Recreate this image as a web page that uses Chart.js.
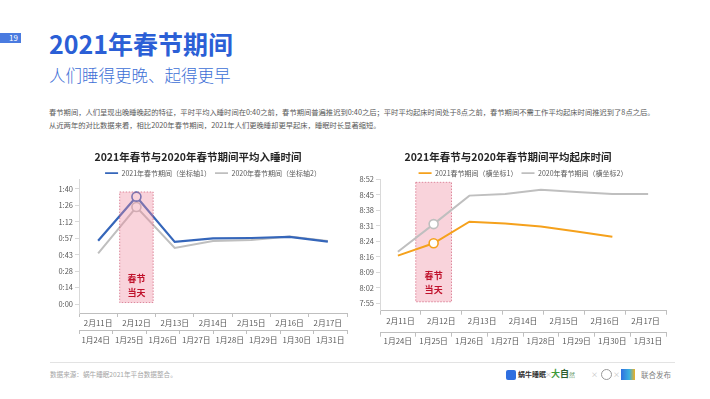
<!DOCTYPE html>
<html>
<head>
<meta charset="utf-8">
<script src="https://cdn.jsdelivr.net/npm/chart.js@4.4.1/dist/chart.umd.min.js"></script>
<style>
  body { margin: 0; width: 710px; height: 399px; background: #fff; position: relative; overflow: hidden;
         font-family: "Noto Sans CJK SC", sans-serif; }
  .abs { position: absolute; white-space: nowrap; }
  #pageNo { left: 0; top: 33px; width: 21px; height: 10px; background: #4a7be0; color: #fff;
            font-size: 8px; line-height: 10px; text-align: right; box-sizing: border-box; padding-right: 3px; }
  #title { left: 49px; top: 31px; font-size: 25px; line-height: 25px; font-weight: bold; color: #2b5fd6; }
  #sub { left: 49px; top: 66.5px; font-size: 16.5px; line-height: 16.5px; color: #3d6fd6; font-weight: 300; }
  #para { left: 49px; top: 106px; font-size: 7.3px; line-height: 13px; color: #595959; }
  #footLine { left: 50px; top: 362px; width: 625px; height: 1px; background: #e3e3e3; }
  #source { left: 50px; top: 369px; font-size: 6.6px; line-height: 10px; color: #a6a6a6; }
  .logo { top: 369px; font-size: 7px; line-height: 11px; }
</style>
</head>
<body>
<div class="abs" id="pageNo">19</div>
<div class="abs" id="title">2021年春节期间</div>
<div class="abs" id="sub">人们睡得更晚、起得更早</div>
<div class="abs" id="para">春节期间，人们呈现出晚睡晚起的特征，平时平均入睡时间在0:40之前，春节期间普遍推迟到0:40之后；平时平均起床时间处于8点之前，春节期间不需工作平均起床时间推迟到了8点之后。<br>从近两年的对比数据来看，相比2020年春节期间，2021年人们更晚睡却更早起床，睡眠时长显著缩短。</div>

<div class="abs" style="left:49px;top:143px;width:303px;height:207px"><canvas id="sleepChart"></canvas></div>
<div class="abs" style="left:350px;top:143px;width:321px;height:207px"><canvas id="wakeChart"></canvas></div>

<div class="abs" id="footLine"></div>
<div class="abs" id="source">数据来源：蜗牛睡眠2021年平台数据整合。</div>
<div class="abs logo" style="left:506px;top:370px;width:10px;height:10px;background:#2f6fe0;border-radius:2px"></div>
<div class="abs logo" style="left:518px;font-weight:bold;color:#333">蜗牛睡眠</div>
<div class="abs logo" style="left:545px;color:#bbb">×</div>
<div class="abs logo" style="left:551px;top:368px;font-size:9px;font-weight:bold"><span style="color:#3d9a3a">大</span><span style="color:#2e5e2e">自</span><span style="color:#6a9a6a;font-size:6px;font-weight:normal">然</span></div>
<div class="abs logo" style="left:591px;color:#bbb">×</div>
<div class="abs logo" style="left:601px;top:369px;width:9px;height:9px;border:1px solid #999;border-radius:50%"></div>
<div class="abs logo" style="left:613px;color:#bbb">×</div>
<div class="abs logo" style="left:621px;top:369px;width:14px;height:11px;background:linear-gradient(90deg,#2f6fe0,#3bb0e0 60%,#f0b020)"></div>
<div class="abs logo" style="left:641px;color:#7f7f7f;font-size:7.5px">联合发布</div>

<script>
// categories
const dates2021 = ['2月11日', '2月12日', '2月13日', '2月14日', '2月15日', '2月16日', '2月17日'];
const dates2020 = ['1月24日', '1月25日', '1月26日', '1月27日', '1月28日', '1月29日', '1月30日', '1月31日'];

// y tick labels (h:mm)
const sleepTicks = ['0:00', '0:14', '0:28', '0:43', '0:57', '1:12', '1:26', '1:40'];
const wakeTicks = ['7:55', '8:02', '8:09', '8:16', '8:24', '8:31', '8:38', '8:45', '8:52'];

// series, minutes after midnight
const sleep2021 = [55.0, 93.3, 54.0, 57.1, 57.4, 58.3, 54.2];
const sleep2020 = [44.1, 84.3, 48.7, 54.8, 55.7, 58.7, 54.8];
const wake2021 = [496.9, 502.6, 512.5, 511.7, 510.3, 508.0, 505.6];
const wake2020 = [498.7, 511.4, 524.5, 525.2, 527.2, 526.2, 525.2, 525.2];

const festivalIndex = 1; // 春节当天

Chart.defaults.font.family = '"Noto Sans CJK SC", sans-serif';
const textColor = '#595959';

function toMin(s) {
  const [h, m] = s.split(':').map(Number);
  return h * 60 + m;
}

function timeAxis(labels, padLow, padHigh) {
  const lo = toMin(labels[0]);
  const hi = toMin(labels[labels.length - 1]);
  const step = (hi - lo) / (labels.length - 1);
  return {
    min: lo - padLow,
    max: hi + padHigh,
    afterBuildTicks: (s) => { s.ticks = labels.map((t, i) => ({ value: lo + i * step })); },
    afterFit: (s) => { s.width = 30; },
    ticks: { color: textColor, font: { size: 7.5 }, padding: 2, autoSkip: false, callback: (v, i) => labels[i] },
    grid: { drawOnChartArea: false, tickLength: 4, color: '#d9d9d9' },
    border: { color: '#d9d9d9' },
  };
}

function dateAxis(labels, height, pad, weight) {
  return {
    type: 'category',
    labels,
    position: 'bottom',
    weight,
    offset: true,
    afterFit: (s) => { s.height = height; },
    ticks: { color: textColor, font: { size: 7.8 }, padding: pad, autoSkip: false, maxRotation: 0 },
    grid: { drawOnChartArea: false, tickLength: 4, color: '#bfbfbf', offset: true },
    border: { color: '#bfbfbf' },
  };
}

function lineSet(label, data, color, width, axis) {
  return {
    label,
    data,
    xAxisID: axis,
    borderColor: color,
    backgroundColor: color,
    borderWidth: width,
    tension: 0,
    pointRadius: (ctx) => (ctx.dataIndex === festivalIndex ? 4.5 : 0),
    pointBorderWidth: 1.6,
    pointBorderColor: color,
    pointBackgroundColor: '#fff',
  };
}

// 春节当天 band: centred on the festival point, one 2020-category wide
const festivalBand = {
  id: 'festivalBand',
  draw(chart, front) {
    const o = chart.options.plugins.festivalBand;
    if (o.front !== front) return;
    const { ctx } = chart;
    const xs = chart.scales[o.axis];
    const ws = chart.scales.x2;
    const y = chart.scales.y;
    const w = ws.getPixelForValue(1) - ws.getPixelForValue(0);
    const cx = xs.getPixelForValue(festivalIndex);
    const top = y.getPixelForValue(y.ticks[y.ticks.length - 1].value) + 3;
    const bottom = y.getPixelForValue(y.ticks[0].value) - 1.5;
    ctx.save();
    ctx.fillStyle = 'rgba(240,140,160,0.38)';
    ctx.fillRect(cx - w / 2, top, w, bottom - top);
    ctx.strokeStyle = 'rgba(200,70,100,0.75)';
    ctx.setLineDash([1.5, 1.5]);
    ctx.lineWidth = 0.8;
    ctx.strokeRect(cx - w / 2, top, w, bottom - top);
    ctx.setLineDash([]);
    ctx.fillStyle = '#c0122c';
    ctx.font = 'bold 9px "Noto Sans CJK SC"';
    ctx.textAlign = 'center';
    ctx.textBaseline = 'middle';
    ctx.fillText('春节', cx, bottom - o.textGap - 14);
    ctx.fillText('当天', cx, bottom - o.textGap);
    ctx.restore();
  },
  beforeDatasetsDraw(chart) { this.draw(chart, false); },
  afterDatasetsDraw(chart) { this.draw(chart, true); },
};

function commonOptions(title, scales, band, padBottom) {
  return {
    responsive: true,
    maintainAspectRatio: false,
    animation: false,
    layout: { padding: { left: 0, right: 5, top: 0, bottom: padBottom } },
    plugins: {
      title: {
        display: true, text: title, color: '#262626',
        font: { size: 10.5, weight: 'bold' }, padding: { top: 8, bottom: 2 },
      },
      legend: {
        position: 'top', fullSize: false, maxHeight: 13.7,
        labels: {
          usePointStyle: true, pointStyle: 'line', pointStyleWidth: 13,
          padding: 4, color: textColor, font: { size: 7 },
        },
      },
      tooltip: { enabled: false },
      festivalBand: band,
    },
    scales,
  };
}

new Chart(document.getElementById('sleepChart'), {
  type: 'line',
  data: {
    labels: dates2021,
    datasets: [
      lineSet('2021年春节期间（坐标轴1）', sleep2021, '#3566ba', 2.2, 'x'),
      lineSet('2020年春节期间（坐标轴2）', sleep2020, '#bfbfbf', 2, 'x'),
    ],
  },
  options: commonOptions('2021年春节与2020年春节期间平均入睡时间', {
    x: dateAxis(dates2021, 17, 1.0, 1),
    x2: dateAxis(dates2020, 17, 1.3, 2),
    y: timeAxis(sleepTicks, 7.8, 8.4),
  }, { axis: 'x', front: true, textGap: 10 }, 3),
  plugins: [festivalBand],
});

new Chart(document.getElementById('wakeChart'), {
  type: 'line',
  data: {
    labels: dates2020,
    datasets: [
      lineSet('2021春节期间（横坐标1）', wake2021, '#f5a11c', 2, 'x2'),
      lineSet('2020年春节期间（横坐标2）', wake2020, '#bfbfbf', 2, 'x2'),
    ],
  },
  options: commonOptions('2021年春节与2020年春节期间平均起床时间', {
    x: dateAxis(dates2021, 22, 1.3, 1),
    x2: dateAxis(dates2020, 17, 0, 2),
    y: timeAxis(wakeTicks, 3.4, 0),
  }, { axis: 'x2', front: false, textGap: 12 }, 0.3),
  plugins: [festivalBand],
});
</script>
</body>
</html>
